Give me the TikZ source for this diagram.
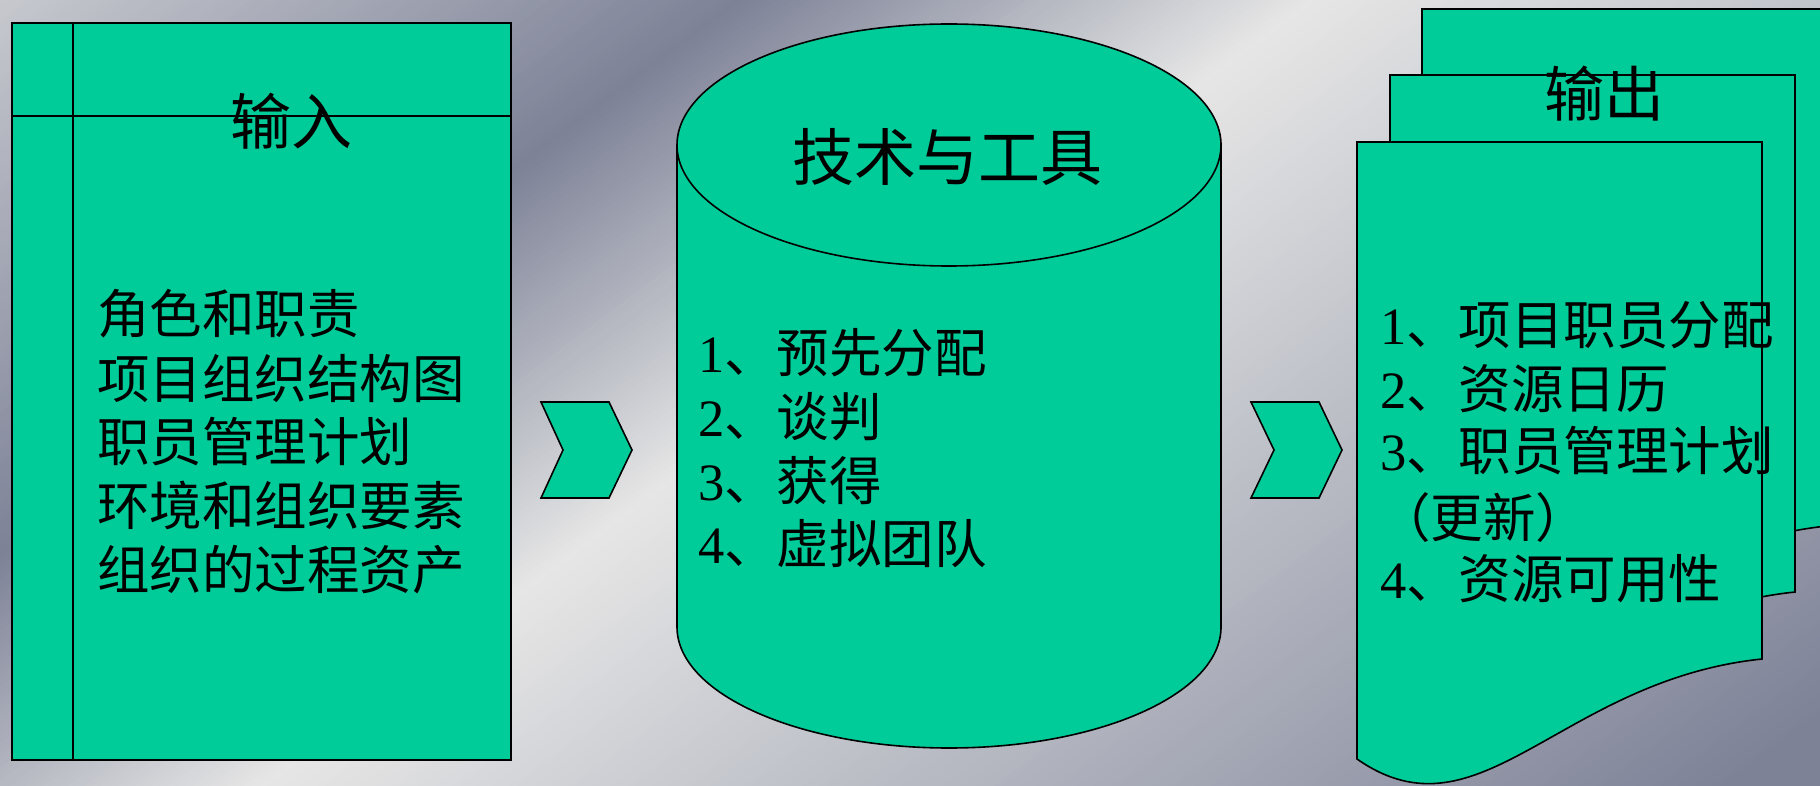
\documentclass[tikz,border=0pt]{standalone}
\usepackage{fontspec}
\setmainfont{Liberation Serif}
\newfontfamily\cjk{Noto Sans CJK SC}
\definecolor{tgreen}{HTML}{00CC99}
\definecolor{bgcorner}{HTML}{C6C8CE}
\definecolor{bgdark}{HTML}{7D8297}
\definecolor{bglight}{HTML}{E6E6E6}
\newcommand\nm[1]{{\rmfamily #1}}
\tikzset{
  shapebox/.style={fill=tgreen, draw=black, line width=1.6pt, line join=miter},
  divline/.style={draw=black, line width=1.6pt},
  titletext/.style={font=\cjk\fontsize{61}{70}\selectfont, anchor=base, inner sep=0pt},
  bodytext/.style={font=\cjk\fontsize{52.5}{60}\selectfont, anchor=base west, inner sep=0pt},
}
\begin{document}
\begin{tikzpicture}[x=1pt,y=1pt]
\useasboundingbox (0,0) rectangle (1820,-786);
% background
\begin{scope}
  \clip (0,0) rectangle (1820,-786);
  \begin{scope}[rotate=-53.2]
    \foreach \s in {0,5,...,435}{
      \pgfmathtruncatemacro\p{\s/440*100}
      \fill[fill=bgdark!\p!bgcorner] (\s,-2500) rectangle (\s+6,2500);
    }
    \foreach \s in {440,445,...,780}{
      \pgfmathtruncatemacro\p{(\s-440)/341*100}
      \fill[fill=bglight!\p!bgdark] (\s,-2500) rectangle (\s+6,2500);
    }
    \foreach \s in {785,790,...,1730}{
      \pgfmathtruncatemacro\p{min(100,(\s-781)/879*100)}
      \fill[fill=bgdark!\p!bglight] (\s,-2500) rectangle (\s+6,2500);
    }
  \end{scope}
\end{scope}

% input box (internal storage)
\path[shapebox] (12,-23) rectangle (511,-760);
\draw[divline] (73,-23) -- (73,-760);
\draw[divline] (12,-116) -- (511,-116);
\node[titletext] (intitle) at (291,-145) {输入};
\node[bodytext] (in1) at (97,-334) {角色和职责};
\node[bodytext] (in2) at (97,-398) {项目组织结构图};
\node[bodytext] (in3) at (97,-461) {职员管理计划};
\node[bodytext] (in4) at (97,-525) {环境和组织要素};
\node[bodytext] (in5) at (97,-589) {组织的过程资产};

% chevrons
\path[shapebox] (541,-402) -- (609,-402) -- (632,-450) -- (609,-498) -- (541,-498) -- (563,-450) -- cycle;
\path[shapebox] (1251,-402) -- (1319,-402) -- (1342,-450) -- (1319,-498) -- (1251,-498) -- (1274,-450) -- cycle;

% cylinder
\path[shapebox] (677,-145) -- (677,-627) arc[start angle=180, end angle=360, x radius=272, y radius=121] -- (1221,-145) -- cycle;
\path[shapebox] (949,-145) ellipse[x radius=272, y radius=121];
\node[titletext, font=\cjk\fontsize{62}{70}\selectfont] (tooltitle) at (947,-181) {技术与工具};
\node[bodytext] (t1) at (698,-372) {\nm{1}、预先分配};
\node[bodytext] (t2) at (698,-436) {\nm{2}、谈判};
\node[bodytext] (t3) at (698,-500) {\nm{3}、获得};
\node[bodytext] (t4) at (698,-563) {\nm{4}、虚拟团队};

% multi-document
\begin{scope}[shift={(65,133)}]
  \path[shapebox] (1357,-142) -- (1762,-142) -- (1762,-659) .. controls (1560,-680) and (1480,-845) .. (1357,-759) -- cycle;
\end{scope}
\begin{scope}[shift={(33,67)}]
  \path[shapebox] (1357,-142) -- (1762,-142) -- (1762,-659) .. controls (1560,-680) and (1480,-845) .. (1357,-759) -- cycle;
\end{scope}
\path[shapebox] (1357,-142) -- (1762,-142) -- (1762,-659) .. controls (1560,-680) and (1480,-845) .. (1357,-759) -- cycle;
\node[titletext, font=\cjk\fontsize{60}{70}\selectfont] (outtitle) at (1604,-117) {输出};
\node[bodytext] (o1) at (1380,-344) {\nm{1}、项目职员分配};
\node[bodytext] (o2) at (1380,-408) {\nm{2}、资源日历};
\node[bodytext] (o3) at (1380,-470) {\nm{3}、职员管理计划};
\node[bodytext] (o3b) at (1378,-537) {（更新）};
\node[bodytext] (o4) at (1380,-598) {\nm{4}、资源可用性};
\end{tikzpicture}
\end{document}
